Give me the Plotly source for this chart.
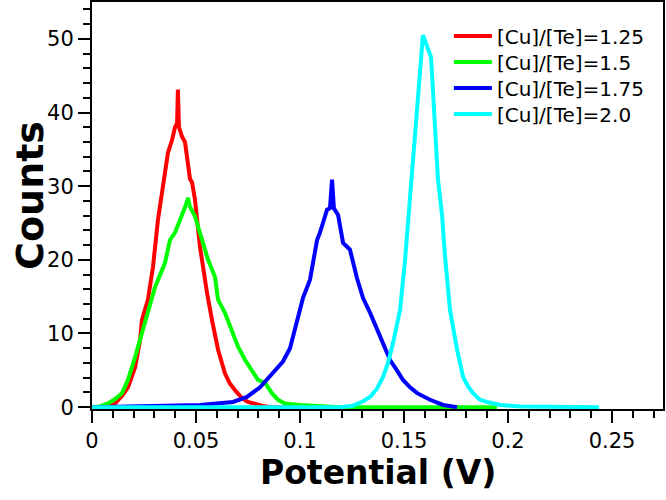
import plotly.graph_objects as go

# ---- data ----
red_x = [0.0, 0.0077, 0.0111, 0.0144, 0.0173, 0.0207, 0.0231, 0.0240, 0.0269, 0.0293, 0.0317,
         0.0337, 0.0351, 0.0365, 0.0385, 0.0399, 0.0409, 0.0413, 0.0418, 0.0433, 0.0447, 0.0457,
         0.0471, 0.0481, 0.0495, 0.0519, 0.0538, 0.0553, 0.0577, 0.0606, 0.0639, 0.0663, 0.0688,
         0.0721, 0.0750, 0.0784, 0.0817, 0.0856, 0.1000]
red_y = [0, 0, 0.5, 1.5, 2.7, 5.4, 9.1, 11.8, 14.6, 19.0, 25.4,
         29.0, 31.8, 34.5, 36.3, 38.0, 38.5, 43.1, 38.0, 36.7, 36.0, 33.6,
         31.0, 30.5, 28.2, 21.8, 18.0, 15.5, 11.8, 7.8, 4.6, 3.2, 2.3,
         1.2, 0.7, 0.4, 0.2, 0, 0]

green_x = [0.0, 0.0038, 0.0077, 0.0111, 0.0144, 0.0173, 0.0207, 0.0240, 0.0269, 0.0303, 0.0337,
           0.0351, 0.0375, 0.0399, 0.0423, 0.0438, 0.0452, 0.0462, 0.0471, 0.0495, 0.0529,
           0.0558, 0.0591, 0.0606, 0.0639, 0.0673, 0.0702, 0.0736, 0.0769, 0.0798, 0.0832,
           0.0865, 0.0894, 0.0928, 0.1000, 0.1096, 0.1192, 0.1947]
green_y = [0, 0.1, 0.5, 1.1, 1.9, 3.7, 6.8, 10.0, 12.8, 16.3, 18.6,
           19.6, 22.7, 23.7, 25.4, 26.4, 27.5, 28.4, 27.2, 25.9, 22.7,
           20.0, 17.7, 14.6, 12.8, 10.5, 8.2, 6.4, 5.0, 3.7, 3.3,
           1.9, 1.0, 0.5, 0.3, 0.1, 0, 0]

blue_x = [0.0, 0.0519, 0.0678, 0.0745, 0.0808, 0.0870, 0.0918, 0.0952, 0.0986, 0.1014, 0.1048,
          0.1063, 0.1082, 0.1096, 0.1111, 0.1130, 0.1144, 0.1154, 0.1163, 0.1183, 0.1207,
          0.1240, 0.1274, 0.1303, 0.1337, 0.1370, 0.1399, 0.1433, 0.1466, 0.1495, 0.1529,
          0.1563, 0.1625, 0.1688, 0.1755]
blue_y = [0, 0.3, 0.7, 1.4, 2.7, 4.6, 6.2, 8.0, 11.8, 14.8, 17.3,
          19.5, 22.7, 23.7, 25.0, 26.8, 27.0, 30.9, 27.0, 26.1, 22.3,
          21.4, 17.5, 14.8, 12.8, 10.5, 8.5, 6.4, 5.0, 3.7, 2.7,
          1.9, 1.0, 0.3, 0]

cyan_x = [0.0, 0.1192, 0.1255, 0.1303, 0.1337, 0.1370, 0.1399, 0.1423, 0.1447, 0.1466, 0.1481,
          0.1505, 0.1524, 0.1543, 0.1567, 0.1591, 0.1630, 0.1649, 0.1663, 0.1683, 0.1697,
          0.1721, 0.1755, 0.1784, 0.1808, 0.1832, 0.1865, 0.1899, 0.1962, 0.2058, 0.2438]
cyan_y = [0, 0, 0.2, 0.8, 1.4, 2.5, 4.1, 6.0, 8.7, 11.0, 13.2,
          20.0, 26.8, 33.6, 43.5, 50.5, 47.5, 39.0, 31.0, 26.0, 20.5,
          13.2, 7.8, 4.1, 2.8, 1.9, 1.0, 0.7, 0.3, 0.1, 0]

series_names = ["[Cu]/[Te]=1.25", "[Cu]/[Te]=1.5", "[Cu]/[Te]=1.75", "[Cu]/[Te]=2.0"]
series_colors = ["#FF0000", "#00FF00", "#0000FF", "#00FFFF"]
legend_ids = ["legend", "legend2", "legend3", "legend4"]

fig = go.Figure()
for xs, ys, name, col, lg in zip([red_x, green_x, blue_x, cyan_x],
                                 [red_y, green_y, blue_y, cyan_y],
                                 series_names, series_colors, legend_ids):
    fig.add_trace(go.Scatter(x=xs, y=ys, mode="lines", name=name, legend=lg,
                             line=dict(color=col, width=4)))

# one legend box per row so that the row spacing follows the reference
row_centres_px = [36, 62, 88, 114]
legend_layout = {}
for lg, yc in zip(legend_ids, row_centres_px):
    legend_layout[lg] = dict(
        x=0.625, y=(409 - yc) / 407, xanchor="left", yanchor="middle",
        itemwidth=38, bgcolor="rgba(0,0,0,0)",
        font=dict(family="DejaVu Sans", size=20, color="black"))

axis_font = dict(family="DejaVu Sans", size=21, color="black")
fig.update_layout(
    width=666, height=500, autosize=False,
    margin=dict(l=92, r=3, t=2, b=91),
    paper_bgcolor="white", plot_bgcolor="white",
    font=dict(family="DejaVu Sans", color="black"),
    showlegend=True,
    xaxis=dict(range=[0, 0.2745], dtick=0.05, tick0=0, ticks="outside", ticklen=12,
               tickwidth=1.5, tickcolor="black", showline=True, linecolor="black", linewidth=2,
               mirror=True, showgrid=False, zeroline=False, tickfont=axis_font, automargin=False,
               minor=dict(dtick=0.01, ticks="outside", ticklen=7, tickcolor="black", tickwidth=1.5),
               title=dict(text="")),
    yaxis=dict(range=[-0.25, 55], dtick=10, tick0=0, ticks="outside", ticklen=12,
               tickwidth=1.5, tickcolor="black", showline=True, linecolor="black", linewidth=2,
               mirror=True, showgrid=False, zeroline=False, tickfont=axis_font, automargin=False,
               minor=dict(dtick=2, ticks="outside", ticklen=7, tickcolor="black", tickwidth=1.5),
               title=dict(text="")),
    annotations=[
        dict(text="<b>Potential (V)</b>", xref="paper", yref="paper", x=0.5, y=-0.157,
             xanchor="center", yanchor="middle", showarrow=False,
             font=dict(family="DejaVu Sans", size=33, color="black")),
        dict(text="<b>Counts</b>", xref="paper", yref="paper", x=-0.1086, y=0.526,
             xanchor="center", yanchor="middle", showarrow=False, textangle=-90,
             font=dict(family="DejaVu Sans", size=38, color="black")),
    ],
    **legend_layout,
)

post = ("document.body.style.margin='0px';"
        "document.body.style.overflow='hidden';"
        "var gd=document.getElementById('{plot_id}');"
        "gd.style.width='666px';gd.style.height='500px';"
        "Plotly.relayout(gd, {width:666, height:500});")

fig.write_html("out.html", post_script=post,
               config={"responsive": False, "displayModeBar": False})
